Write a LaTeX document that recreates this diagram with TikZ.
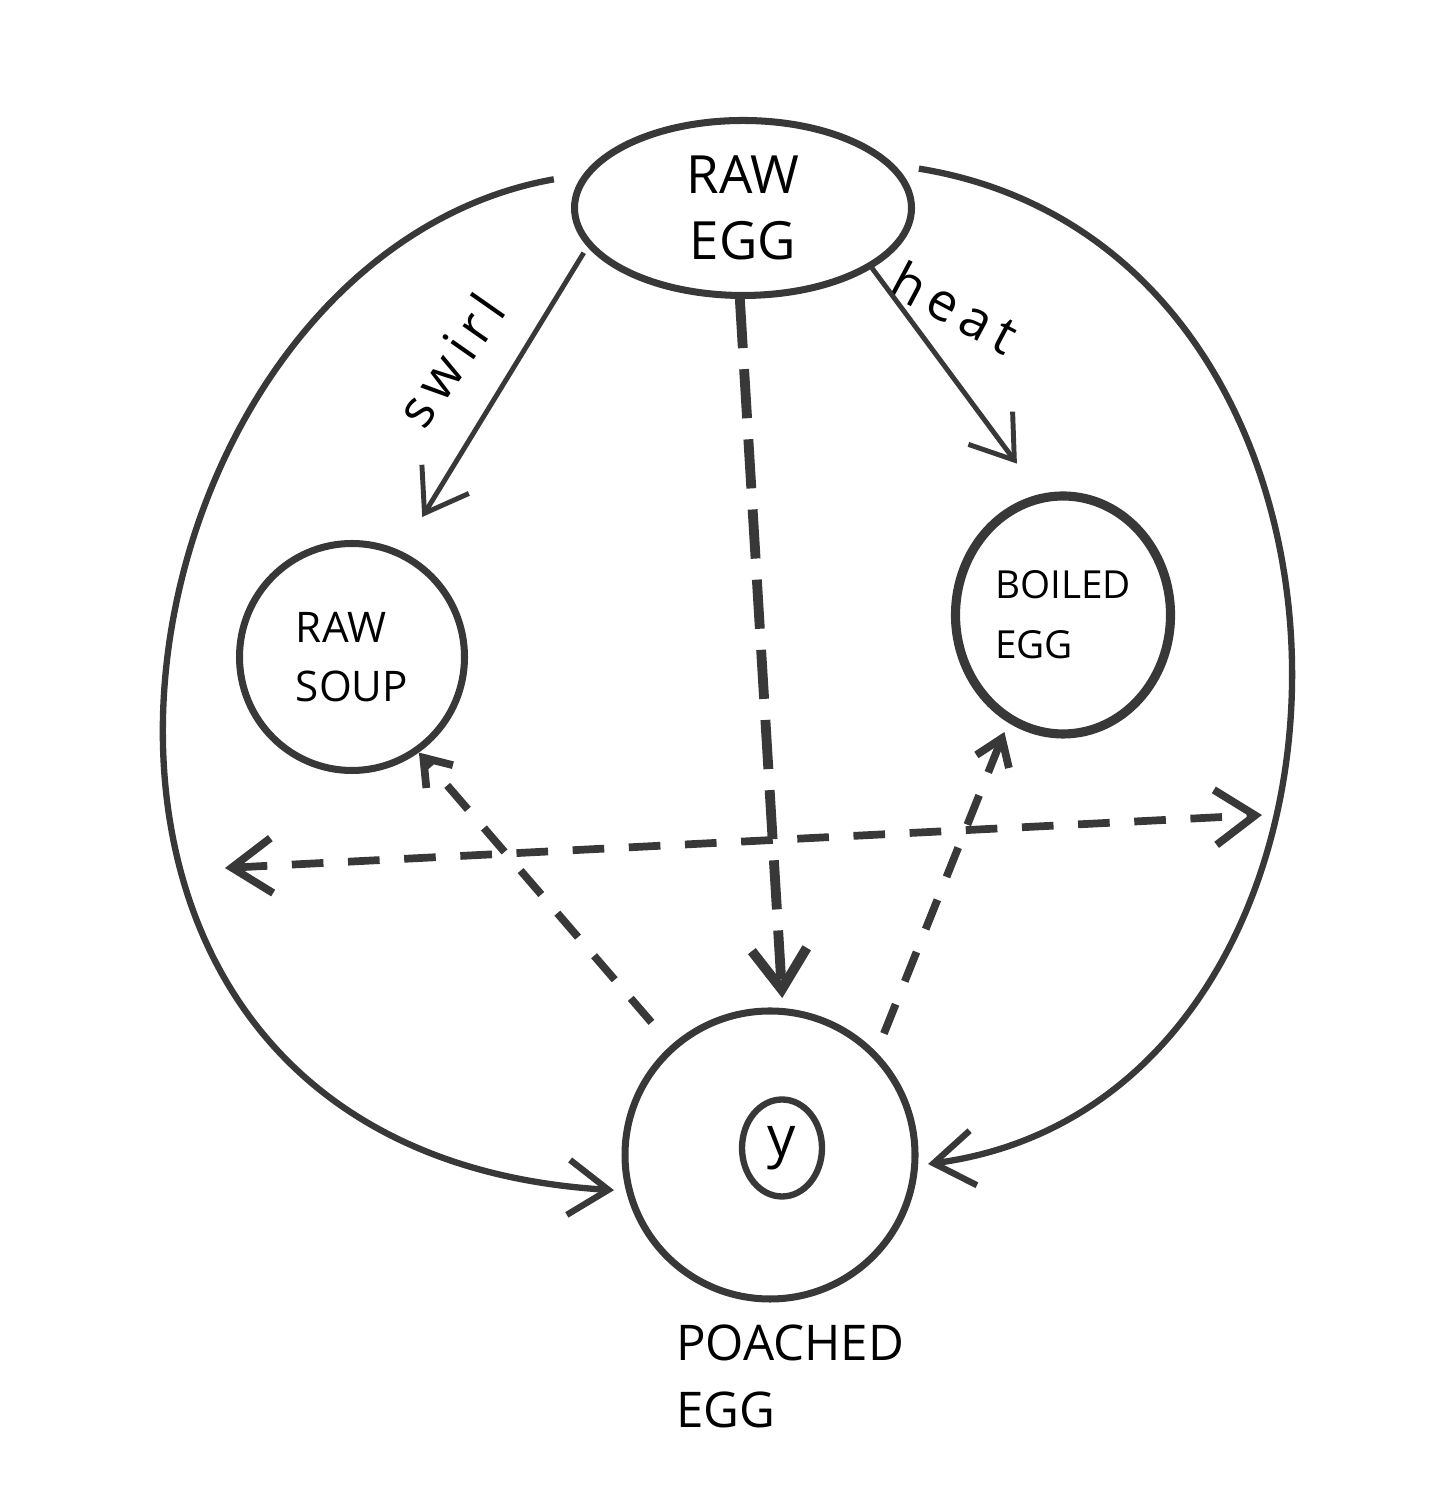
\documentclass[tikz,border=0pt]{standalone}
\usepackage{fontspec}
\setmainfont{Open Sans}
\usetikzlibrary{shapes.geometric, arrows.meta, positioning}

\begin{document}
\begin{tikzpicture}[>={Straight Barb[length=4mm,width=5.5mm]}, pen/.style={draw=black!78,line width=2pt}, egg/.style={ellipse,pen,inner sep=0pt,align=left}, sarr/.style={->,draw=black!78,line width=1.4pt}, darr/.style={draw=black!78,line width=2.2pt,dash pattern=on 9pt off 7pt}, sm/.style={-{Straight Barb[length=2.5mm,width=3.5mm]}}, lbl/.style={font=\fontsize{15}{18}\selectfont\addfontfeature{LetterSpace=15}}]
  \useasboundingbox (0,0) rectangle (14.34,14.99);
  % states
  \node[egg,minimum width=3.37cm,minimum height=1.75cm,align=center,font=\fontsize{15}{19}\selectfont](raw) at (7.43,12.91){RAW\\EGG};
  \node[egg,minimum width=2.25cm,minimum height=2.27cm,font=\fontsize{12}{17}\selectfont](soup) at (3.52,8.42){RAW\\SOUP};
  \node[egg,line width=2.6pt,minimum width=2.15cm,minimum height=2.38cm,font=\fontsize{11}{17}\selectfont](boiled) at (10.63,8.84){BOILED\\EGG};
  \node[egg,minimum width=2.9cm,minimum height=2.88cm](poached) at (7.70,3.44){};
  \node[egg,line width=1.8pt,minimum width=0.8cm,minimum height=0.97cm,font=\fontsize{16}{19}\selectfont](y) at (7.82,3.51){y};
  \node[below=0.1cm of poached,xshift=0.2cm,align=left,font=\fontsize{14}{19}\selectfont](pname){POACHED\\EGG};
  % labels
  \node[lbl,rotate=55](swirl) at (4.50,11.39){swirl};
  \node[lbl,rotate=-28](heat) at (9.55,11.92){heat};
  % free ends of the cross arrow
  \coordinate (l) at (2.25,6.31);
  \coordinate (r) at (12.62,6.84);
  % arrows
  \draw[sarr,shorten <=2pt,shorten >=0.4cm](raw.194)--(soup.65);
  \draw[sarr,shorten >=0.38cm](raw.335)--(boiled.101);
  \draw[darr,->,line width=2.8pt,dash pattern=on 14pt off 6pt,shorten >=0.1cm](raw.268)--(poached.85);
  \draw[sarr,line width=1.8pt,shorten <=0.3cm,shorten >=0.12cm](raw.168) .. controls (1.00,12.39) and (-0.50,3.49) .. (poached.194);
  \draw[sarr,line width=1.8pt,shorten <=0.25cm,shorten >=0.1cm](raw.16) .. controls (14.20,12.49) and (14.07,3.99) .. (poached.356);
  \draw[darr,sm,shorten <=0.3cm](poached.132)--(soup.305);
  \draw[darr,sm,shorten <=0.2cm,shorten >=0.1cm](poached.44)--(boiled.243);
  \draw[darr,<->](l)--(r);
\end{tikzpicture}
\end{document}
